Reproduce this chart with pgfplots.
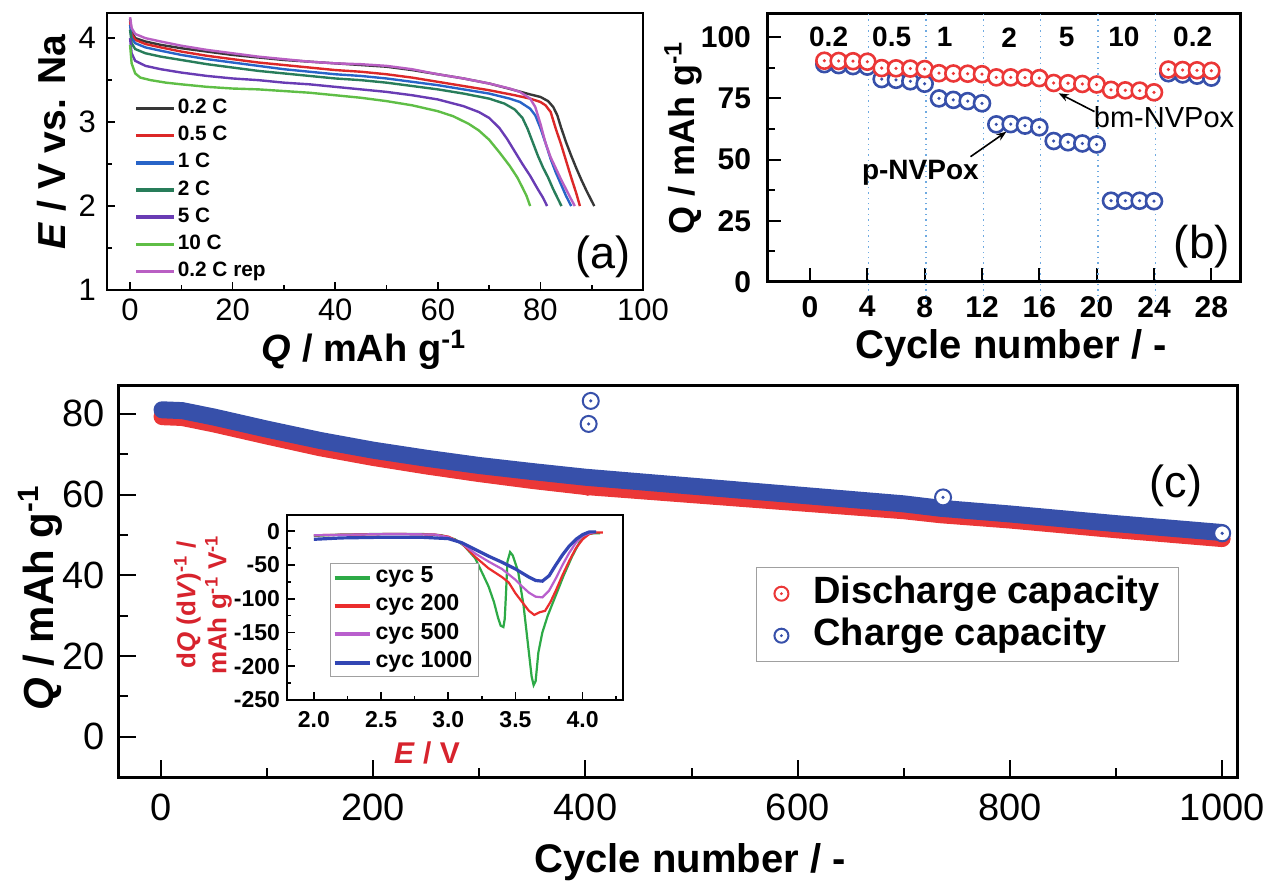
\documentclass[border=0pt]{standalone}
\usepackage{fontspec}
\setmainfont{Liberation Sans}
\usepackage{pgfplots}
\pgfplotsset{compat=1.18}
\usetikzlibrary{arrows.meta}

% colours
\definecolor{ka}{RGB}{55,55,55}
\definecolor{kr}{RGB}{220,40,40}
\definecolor{kb}{RGB}{40,100,200}
\definecolor{kg}{RGB}{40,125,90}
\definecolor{kp}{RGB}{105,60,180}
\definecolor{kl}{RGB}{95,190,70}
\definecolor{km}{RGB}{185,95,195}
\definecolor{mred}{RGB}{235,55,55}
\definecolor{mblue}{RGB}{55,80,170}
\definecolor{vline}{RGB}{110,170,225}
\definecolor{lbl}{RGB}{215,35,45}
\definecolor{ig}{RGB}{45,170,70}
\definecolor{ir}{RGB}{235,45,45}
\definecolor{iv}{RGB}{185,95,205}
\definecolor{ib}{RGB}{50,70,180}
\definecolor{lgray}{RGB}{160,160,160}

% circle with a dot in the middle
\pgfdeclareplotmark{odot}{%
  \begin{pgfscope}\pgfsetfillcolor{white}%
   \pgfpathcircle{\pgfpointorigin}{\pgfplotmarksize}\pgfusepathqfillstroke\end{pgfscope}%
  \pgfpathcircle{\pgfpointorigin}{0.22\pgfplotmarksize}\pgfusepathqfill}

\pgfplotsset{every axis/.append style={scale only axis, anchor=south west,
  tick align=inside, tick pos=left,
  /pgf/number format/assume math mode=true, /pgf/number format/1000 sep={},
  every tick/.append style={black}}}

\begin{document}
\begin{tikzpicture}
\useasboundingbox (0,0) rectangle (632pt,441pt);

% ===== (a) discharge curves =====
\begin{axis}[at={(53.5pt,296pt)}, width=268pt, height=138.5pt,
  xmin=-4.5, xmax=100, ymin=1, ymax=4.3,
  xtick={0,20,...,100}, minor xtick={10,30,...,90},
  ytick={1,2,3,4}, minor ytick={1.5,2.5,3.5},
  axis line style={line width=1pt}, major tick length=4pt, minor tick length=2.5pt,
  every tick/.append style={line width=0.8pt},
  tick label style={font=\fontsize{15.5}{15.5}\selectfont},
  xticklabel style={yshift=-1pt}, yticklabel style={xshift=-2pt},
  legend style={at={(0.05,0.70)}, anchor=north west, draw=none, fill=none,
    font=\bfseries\fontsize{10.4}{10.4}\selectfont, row sep=1.6pt, inner sep=0pt,
    nodes={inner sep=1pt, text height=7.5pt, text depth=2.5pt}},
  legend cell align=left,
  legend image code/.code={\draw[#1, line width=1.8pt] (0pt,0pt) -- (19pt,0pt);},
]
\addplot[no marks, line width=1.2pt, ka] coordinates {
(0,4.23)(0.3,4.08)(1,4.0)(3,3.96)(6,3.92)(10,3.88)(15,3.84)(20,3.80)(25,3.77)
(30,3.74)(35,3.72)(40,3.70)(45,3.68)(50,3.66)(55,3.62)(60,3.57)(65,3.52)(70,3.46)
(75,3.38)(78,3.33)(80,3.30)(81.5,3.25)(82.5,3.18)(83.3,3.08)(84,2.94)(85,2.76)
(86,2.60)(87,2.45)(88,2.31)(89,2.18)(90.5,2.0)};
\addlegendentry{0.2 C}
\addplot[no marks, line width=1.2pt, kr] coordinates {
(0,4.2)(0.3,4.05)(1,3.98)(3,3.93)(6,3.89)(10,3.84)(15,3.79)(20,3.75)(25,3.71)
(30,3.68)(35,3.65)(40,3.62)(45,3.6)(50,3.57)(55,3.53)(60,3.48)(65,3.43)(70,3.38)
(75,3.32)(78,3.28)(80,3.24)(81,3.2)(82,3.12)(83,2.92)(84,2.74)(85,2.54)(86,2.34)
(87,2.15)(87.7,2.0)};
\addlegendentry{0.5 C}
\addplot[no marks, line width=1.2pt, kb] coordinates {
(0,4.16)(0.3,4.0)(1,3.94)(3,3.89)(6,3.85)(10,3.8)(15,3.75)(20,3.71)(25,3.67)
(30,3.63)(35,3.6)(40,3.57)(45,3.55)(50,3.52)(55,3.48)(60,3.44)(65,3.39)(70,3.34)
(74,3.28)(76,3.24)(78,3.16)(79,3.08)(80,2.93)(81,2.75)(82,2.56)(83,2.4)(84,2.26)
(85,2.12)(86,2.0)};
\addlegendentry{1 C}
\addplot[no marks, line width=1.2pt, kg] coordinates {
(0,4.1)(0.3,3.94)(1,3.87)(3,3.82)(6,3.78)(10,3.74)(15,3.69)(20,3.65)(25,3.61)
(30,3.58)(35,3.55)(40,3.52)(45,3.5)(50,3.47)(55,3.43)(60,3.39)(65,3.34)(70,3.28)
(73,3.22)(75,3.15)(76.5,3.05)(77.5,2.92)(78.5,2.76)(79.5,2.6)(80.5,2.46)
(81.5,2.34)(82.5,2.2)(83.3,2.1)(84.1,2.0)};
\addlegendentry{2 C}
\addplot[no marks, line width=1.2pt, kp] coordinates {
(0,4.0)(0.3,3.82)(1,3.73)(3,3.67)(6,3.63)(10,3.59)(15,3.55)(20,3.52)(25,3.5)
(30,3.47)(35,3.45)(40,3.42)(45,3.39)(50,3.36)(55,3.32)(60,3.27)(65,3.19)(68,3.12)
(70,3.05)(72,2.93)(73.5,2.8)(75,2.65)(76.5,2.5)(78,2.36)(79.5,2.2)(80.5,2.1)(81.3,2.0)};
\addlegendentry{5 C}
\addplot[no marks, line width=1.2pt, kl] coordinates {
(0,3.92)(0.3,3.7)(1,3.58)(2,3.53)(4,3.5)(7,3.47)(10,3.45)(15,3.42)(20,3.4)(25,3.39)
(30,3.37)(35,3.35)(40,3.32)(45,3.29)(50,3.25)(55,3.2)(60,3.13)(63,3.07)(66,2.98)
(68,2.9)(70,2.79)(72,2.64)(74,2.48)(75.5,2.34)(76.5,2.22)(77.3,2.12)(78,2.0)};
\addlegendentry{10 C}
\addplot[no marks, line width=1.2pt, km] coordinates {
(0,4.25)(0.3,4.12)(1,4.05)(3,4.0)(6,3.96)(10,3.91)(15,3.86)(20,3.82)(25,3.78)
(30,3.75)(35,3.72)(40,3.70)(45,3.69)(50,3.67)(55,3.63)(60,3.57)(65,3.52)(70,3.46)
(74,3.40)(76,3.36)(78,3.28)(79,3.18)(80,2.98)(81,2.75)(82,2.58)(83,2.45)(84,2.32)
(85,2.2)(86,2.08)(86.7,2.0)};
\addlegendentry{0.2 C rep}
\end{axis}

% ===== (b) rate capability =====
\begin{axis}[at={(383.5pt,300pt)}, width=236.5pt, height=134pt,
  xmin=-3, xmax=30, ymin=0, ymax=109.5, clip=false,
  xtick={0,4,...,28}, ytick={0,25,...,100}, minor ytick={12.5,37.5,62.5,87.5},
  axis line style={line width=1.5pt}, major tick length=7pt, minor tick length=4pt,
  every tick/.append style={line width=1pt},
  tick label style={font=\bfseries\fontsize{15}{15}\selectfont},
  xticklabel style={yshift=-3.5pt}, yticklabel style={xshift=-4.5pt},
]
\pgfplotsinvokeforeach{4.1,8.1,12.1,16.1,20.1,24.1}{
  \draw[vline, dotted, line width=0.7pt] (axis cs:#1,-8) -- (axis cs:#1,109.5);}
\addplot[only marks, mark=odot, mark size=4pt, line width=1.3pt, mblue] coordinates {
(1,89.0)(2,88.6)(3,88.2)(4,88.0)(5,82.9)(6,82.6)(7,82.0)(8,81.0)(9,75.0)(10,74.4)
(11,73.9)(12,73.0)(13,64.4)(14,64.5)(15,63.9)(16,63.2)(17,57.6)(18,57.1)(19,56.6)
(20,56.2)(21,33.2)(22,33.2)(23,33.2)(24,33.0)(25,85.3)(26,84.8)(27,84.3)(28,83.5)};
\addplot[only marks, mark=odot, mark size=4pt, line width=1.3pt, mred] coordinates {
(1,90.4)(2,90.3)(3,90.2)(4,90.0)(5,87.4)(6,87.3)(7,87.2)(8,87.0)(9,85.3)(10,85.2)
(11,85.1)(12,84.9)(13,83.6)(14,83.6)(15,83.5)(16,83.3)(17,81.3)(18,81.2)(19,80.9)
(20,80.7)(21,78.5)(22,78.3)(23,78.2)(24,77.5)(25,86.8)(26,86.6)(27,86.5)(28,86.3)};
\begin{scope}[font=\bfseries\fontsize{14}{14}\selectfont]
\node at (axis cs:1.3,100) {0.2};
\node at (axis cs:5.7,100) {0.5};
\node at (axis cs:9.4,100) {1};
\node at (axis cs:13.9,100) {2};
\node at (axis cs:17.9,100) {5};
\node at (axis cs:21.9,100) {10};
\node at (axis cs:26.7,100) {0.2};
\end{scope}
\draw[-{Stealth[length=5pt]}, line width=0.8pt] (axis cs:19.85,69.6) -- (axis cs:17.35,77.1);
\draw[-{Stealth[length=5pt]}, line width=0.8pt] (axis cs:11.2,51.2) -- (axis cs:13.7,61.4);
\node[font=\fontsize{14.5}{14.5}\selectfont] at (axis cs:24.7,67.3) {bm-NVPox};
\node[font=\bfseries\fontsize{14}{14}\selectfont] at (axis cs:7.7,44.5) {p-NVPox};
\end{axis}

% ===== (c) long cycling =====
\begin{axis}[at={(59pt,52pt)}, width=559.5pt, height=196pt,
  xmin=-40.5, xmax=1014, ymin=-10.2, ymax=86.9,
  xtick={0,200,...,1000}, minor xtick={100,300,...,900},
  ytick={0,20,...,80}, minor ytick={10,30,...,70},
  axis line style={line width=1.5pt}, major tick length=9pt, minor tick length=5pt,
  every tick/.append style={line width=1pt},
  tick label style={font=\fontsize{19}{19}\selectfont},
  xticklabel style={yshift=-4.5pt}, yticklabel style={xshift=-3pt},
  legend style={at={(0.570,0.538)}, anchor=north west, draw=lgray, line width=0.6pt,
    font=\bfseries\fontsize{19}{19}\selectfont, row sep=3.5pt,
    inner xsep=9pt, inner ysep=4.25pt,
    nodes={inner ysep=0pt, inner xsep=0.5pt, text height=13.7pt, text depth=3.8pt},
    /tikz/every odd column/.append style={column sep=12pt}},
  legend cell align=left,
]
\addplot[forget plot, no marks, line width=8.5pt, line cap=round, line join=round, mred] coordinates {
(1,79.3)(20,79.1)(50,77.5)(100,74.5)(150,71.6)(200,69.2)(250,67.1)(300,65.2)
(350,63.5)(400,62.0)(450,61.0)(500,60.0)(550,59.0)(600,58.0)(650,57.0)(700,56.0)
(735,55.0)(800,53.7)(850,52.5)(900,51.3)(950,50.2)(1000,49.1)};
\addplot[forget plot, no marks, line width=8.5pt, line cap=round, line join=round, mblue] coordinates {
(1,81.0)(20,80.8)(50,79.2)(100,76.2)(150,73.4)(200,71.0)(250,69.0)(300,67.2)
(350,65.7)(400,64.3)(450,63.2)(500,62.1)(550,61.0)(600,59.9)(650,58.8)(700,57.7)
(735,56.6)(800,55.2)(850,54.0)(900,52.8)(950,51.7)(1000,50.6)};
\addplot[forget plot, only marks, mark=*, mark size=2pt, mred] coordinates {(402,60.8)};
\addplot[forget plot, only marks, mark=odot, mark size=4pt, line width=1pt, mblue] coordinates {
(403,77.5)(405,83.2)(737,59.3)(1000,50.4)};
\addlegendimage{only marks, mark=odot, mark size=3.5pt, line width=1pt, mred}
\addlegendentry{Discharge capacity}
\addlegendimage{only marks, mark=odot, mark size=3.5pt, line width=1pt, mblue}
\addlegendentry{Charge capacity}
\end{axis}

% ===== inset: dQ/dV =====
\begin{axis}[at={(143.5pt,91pt)}, width=168pt, height=92.5pt,
  xmin=1.8, xmax=4.3, ymin=-250, ymax=24,
  xtick={2,2.5,...,4}, minor xtick={2.25,2.75,...,4.25}, xticklabels={2.0,2.5,3.0,3.5,4.0},
  ytick={-250,-200,...,0}, minor ytick={-225,-175,...,-25},
  yticklabels={-250,-200,-150,-100,-50,0},
  axis line style={line width=1pt}, major tick length=4pt, minor tick length=2pt,
  every tick/.append style={line width=0.8pt},
  tick label style={font=\bfseries\fontsize{11.5}{11.5}\selectfont},
  xticklabel style={yshift=-2pt},
  axis background/.style={fill=white},
  legend style={at={(0.128,0.74)}, anchor=north west, draw=lgray, line width=0.5pt,
    font=\bfseries\fontsize{11.6}{11.6}\selectfont, row sep=2.2pt, inner sep=1pt,
    nodes={inner ysep=0pt, text height=8.4pt, text depth=3.6pt}},
  legend cell align=left,
  legend image code/.code={\draw[#1, line width=2pt] (0pt,0pt) -- (17.5pt,0pt);},
]
\addplot[no marks, line width=1.1pt, ig] coordinates {
(2.0,-7)(2.2,-5)(2.5,-4)(2.8,-4)(2.95,-6)(3.05,-12)(3.12,-22)(3.2,-40)(3.26,-65)
(3.3,-82)(3.34,-105)(3.37,-128)(3.39,-140)(3.41,-142)(3.42,-130)(3.43,-90)(3.44,-45)
(3.46,-31)(3.48,-36)(3.52,-60)(3.56,-110)(3.6,-180)(3.62,-215)(3.635,-228)(3.65,-222)
(3.67,-180)(3.7,-150)(3.74,-125)(3.8,-95)(3.86,-65)(3.92,-38)(3.98,-15)(4.03,-5)
(4.08,-3)(4.13,-3)};
\addlegendentry{cyc 5}
\addplot[no marks, line width=1.1pt, ir] coordinates {
(2.0,-6)(2.3,-5)(2.6,-4)(2.9,-5)(3.0,-8)(3.1,-18)(3.2,-38)(3.3,-55)(3.4,-68)
(3.45,-76)(3.5,-92)(3.55,-105)(3.6,-118)(3.64,-124)(3.68,-120)(3.72,-118)(3.76,-105)
(3.8,-88)(3.85,-65)(3.9,-44)(3.95,-25)(4.0,-12)(4.05,-4)(4.1,-2)(4.15,-2)};
\addlegendentry{cyc 200}
\addplot[no marks, line width=1.1pt, iv] coordinates {
(2.0,-6)(2.3,-5)(2.6,-4)(2.9,-5)(3.0,-9)(3.1,-18)(3.2,-33)(3.3,-45)(3.4,-56)
(3.5,-72)(3.55,-82)(3.6,-91)(3.65,-97)(3.7,-98)(3.75,-88)(3.8,-70)(3.85,-50)
(3.9,-32)(3.95,-17)(4.0,-7)(4.05,-3)(4.1,-1)};
\addlegendentry{cyc 500}
\addplot[no marks, line width=1.6pt, ib] coordinates {
(2.0,-12)(2.2,-10)(2.5,-9)(2.8,-9)(3.0,-11)(3.1,-17)(3.2,-27)(3.3,-37)(3.4,-46)
(3.5,-56)(3.55,-62)(3.6,-68)(3.65,-73)(3.7,-74)(3.75,-66)(3.8,-50)(3.85,-35)
(3.9,-22)(3.95,-12)(4.0,-5)(4.05,-1)(4.1,-1)};
\addlegendentry{cyc 1000}
\end{axis}

% ===== labels =====
\node[rotate=90, font=\bfseries\fontsize{19.5}{19.5}\selectfont] at (26pt,370pt) {\textit{E} / V vs. Na};
\node[font=\bfseries\fontsize{19}{19}\selectfont] at (182pt,266pt) {\textit{Q} / mAh g\textsuperscript{-1}};
\node[rotate=90, font=\bfseries\fontsize{18}{18}\selectfont] at (341.5pt,372pt) {Q / mAh g\textsuperscript{-1}};
\node[font=\bfseries\fontsize{20}{20}\selectfont] at (505.5pt,267pt) {Cycle number / -};
\node[rotate=90, font=\bfseries\fontsize{21}{21}\selectfont] at (20pt,142pt) {\textit{Q} / mAh g\textsuperscript{-1}};
\node[font=\bfseries\fontsize{20}{20}\selectfont] at (345pt,10pt) {Cycle number / -};
\node[lbl, font=\bfseries\fontsize{15}{15}\selectfont] at (213.5pt,64.5pt) {\textit{E} / V};
\node[lbl, rotate=90, align=center, font=\bfseries\fontsize{13}{15.5}\selectfont] at (101.5pt,138.5pt)
  {d\textit{Q} (d\textit{V})\textsuperscript{-1} /\\ mAh g\textsuperscript{-1} V\textsuperscript{-1}};
\node[font=\fontsize{22.5}{22.5}\selectfont] at (301.5pt,312.5pt) {(a)};
\node[font=\fontsize{23}{23}\selectfont] at (601pt,317.5pt) {(b)};
\node[font=\fontsize{22.5}{22.5}\selectfont] at (588pt,198pt) {(c)};
\end{tikzpicture}
\end{document}
